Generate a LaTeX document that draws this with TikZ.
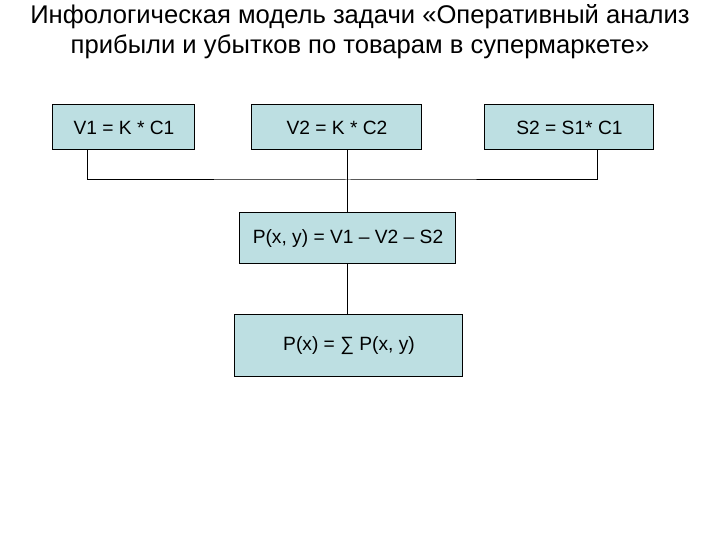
\documentclass[tikz,border=0pt]{standalone}
\usepackage{fontspec}
\setmainfont{Liberation Sans}
\begin{document}
\begin{tikzpicture}[x=0.5pt,y=-0.5pt,
  box/.style={draw=black,line width=0.5pt,fill=boxfill,font=\fontsize{9.6}{11}\selectfont,inner sep=0pt},
  link/.style={draw=black,line width=0.5pt}]
\definecolor{boxfill}{HTML}{BDDFE2}
\useasboundingbox (0,0) rectangle (720,540);
\node[font=\fontsize{12.8}{15}\selectfont,align=center] (title) at (360,32) {Инфологическая модель задачи «Оперативный анализ\\прибыли и убытков по товарам в супермаркете»};
\node[box,minimum width=71pt,minimum height=22.5pt] (v1) at (124,127.5) {V1 = K * C1};
\node[box,minimum width=85pt,minimum height=22.5pt] (v2) at (337,127.5) {V2 = K * C2};
\node[box,minimum width=84.5pt,minimum height=22.5pt] (s2) at (569.5,127.5) {S2 = S1* C1};
\node[box,minimum width=108pt,minimum height=25.5pt] (p) at (348,238.5) {P(x, y) = V1 -- V2 -- S2};
\node[box,minimum width=114pt,minimum height=31pt] (px) at (349,346) {P(x) = ∑ P(x, y)};
\coordinate (j) at (348,180);
\draw[link] (v1.south -| 88,0) |- (j) -| (s2.south -| 598,0);
\draw[link] (v2.south -| 348,0) -- (p.north);
\draw[link] (p.south) -- (px.north -| p.south);
\end{tikzpicture}
\end{document}
